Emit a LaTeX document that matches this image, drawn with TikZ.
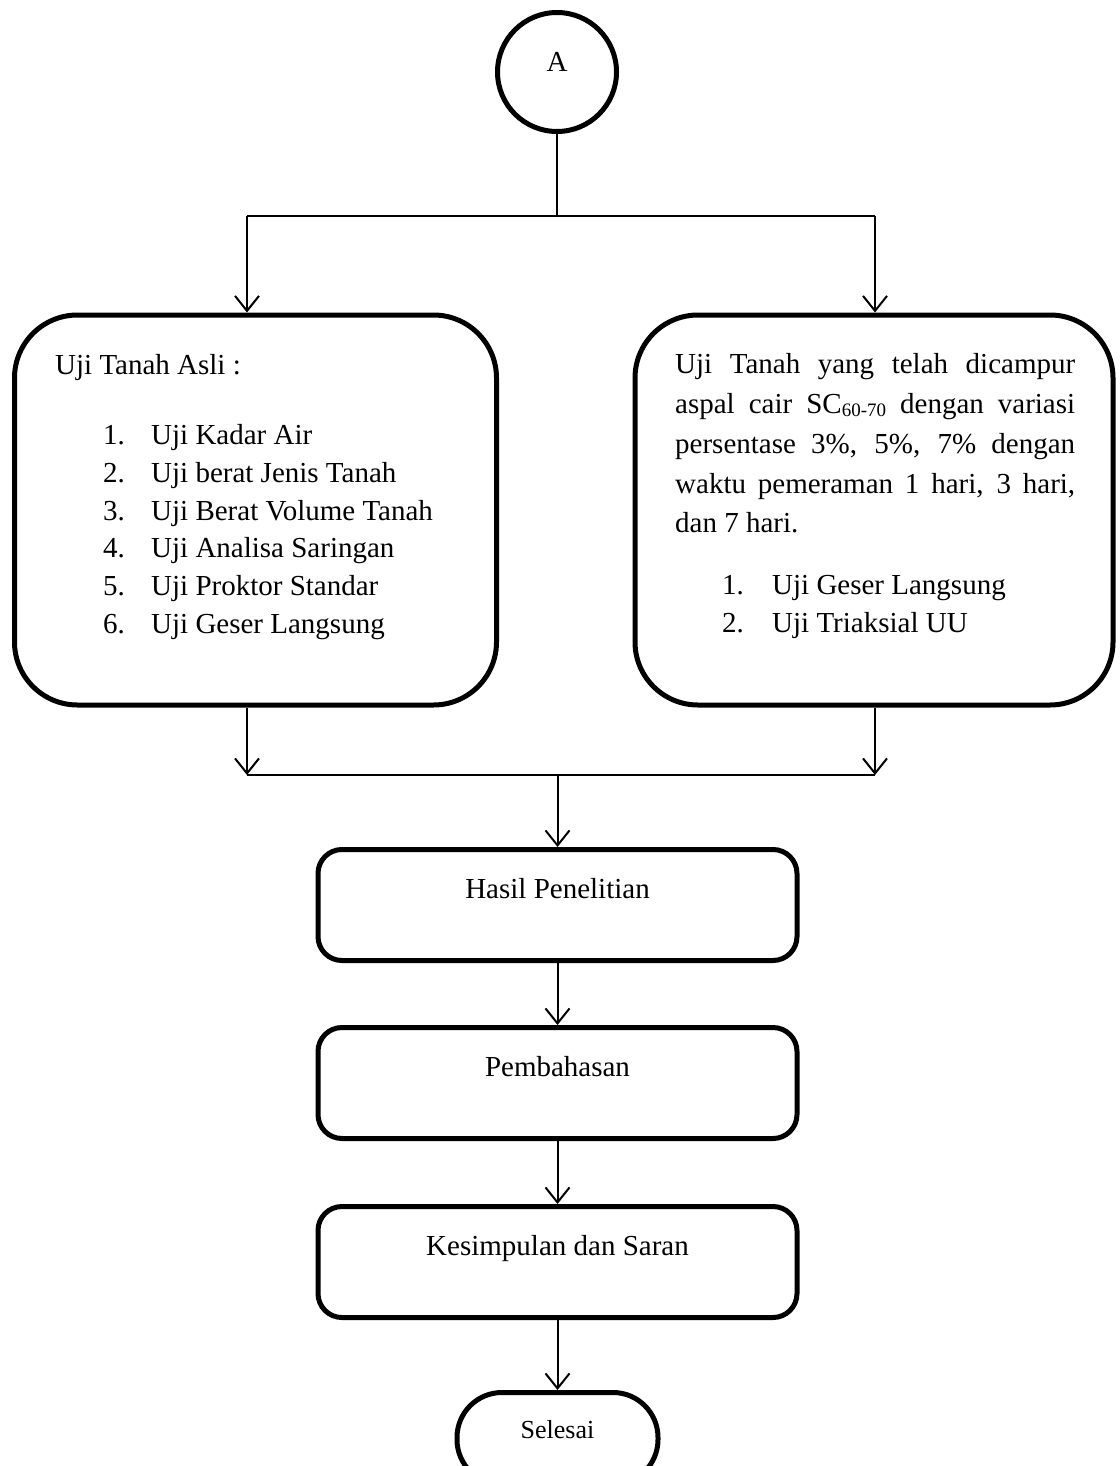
\documentclass[tikz,border=0pt]{standalone}
\usepackage{fontspec}
\setmainfont{Liberation Serif}
\usetikzlibrary{arrows.meta}
\begin{document}
\begin{tikzpicture}[x=1pt,y=-1pt,
  bigbox/.style={draw,line width=5pt,rounded corners=63pt,inner sep=0pt,minimum height=390pt},
  midbox/.style={draw,line width=5pt,rounded corners=24pt,inner sep=0pt,minimum width=479pt,minimum height=111pt},
  endbox/.style={draw,line width=5pt,rounded corners=45pt,inner sep=0pt,minimum width=201pt,minimum height=92pt},
  txt/.style={inner sep=0pt,anchor=base west,font=\fontsize{29}{35}\selectfont},
  ctxt/.style={inner sep=0pt,anchor=base,font=\fontsize{29}{35}\selectfont},
  ln/.style={line width=2pt},
  arr/.style={line width=2pt,-{Straight Barb[length=15pt,width=24pt,line width=2pt]}}
]
\clip (0,0) rectangle (1119,1466);
\fill[white] (0,0) rectangle (1119,1466);

% start connector
\node[draw,circle,line width=5pt,minimum size=119pt,inner sep=0pt] (A) at (557,72) {};
\node[ctxt] (Atxt) at (557,72) {A};

% boxes
\node[bigbox,minimum width=482pt] (L) at (255.5,510) {};
\node[bigbox,minimum width=478pt] (R) at (874,510) {};
\node[midbox] (H) at (557.5,905) {};
\node[midbox] (P) at (557.5,1083) {};
\node[midbox] (K) at (557.5,1262) {};
\node[endbox] (S) at (557.5,1438.5) {};

% left box text
\node[txt] (Lt) at (55,374) {Uji Tanah Asli :};
\node[txt] (Ln1) at (103,444) {1.};
\node[txt] (Li1) at (151,444) {Uji Kadar Air};
\node[txt] (Ln2) at (103,482) {2.};
\node[txt] (Li2) at (151,482) {Uji berat Jenis Tanah};
\node[txt] (Ln3) at (103,520) {3.};
\node[txt] (Li3) at (151,520) {Uji Berat Volume Tanah};
\node[txt] (Ln4) at (103,557) {4.};
\node[txt] (Li4) at (151,557) {Uji Analisa Saringan};
\node[txt] (Ln5) at (103,595) {5.};
\node[txt] (Li5) at (151,595) {Uji Proktor Standar};
\node[txt] (Ln6) at (103,633) {6.};
\node[txt] (Li6) at (151,633) {Uji Geser Langsung};

% right box text
\node[txt] (Rt1) at (675,373) {\makebox[400pt][s]{Uji Tanah yang telah dicampur}};
\node[txt] (Rt2) at (675,413) {\makebox[400pt][s]{aspal cair SC{\fontsize{19}{19}\selectfont\raisebox{-3pt}{60-70}} dengan variasi}};
\node[txt] (Rt3) at (675,453) {\makebox[400pt][s]{persentase 3\%, 5\%, 7\% dengan}};
\node[txt] (Rt4) at (675,493) {\makebox[400pt][s]{waktu pemeraman 1 hari, 3 hari,}};
\node[txt] (Rt5) at (675,532) {dan 7 hari.};
\node[txt] (Rn1) at (722,594) {1.};
\node[txt] (Ri1) at (772,594) {Uji Geser Langsung};
\node[txt] (Rn2) at (722,632) {2.};
\node[txt] (Ri2) at (772,632) {Uji Triaksial UU};

% centre box text
\node[ctxt] (Ht) at (557.5,898) {Hasil Penelitian};
\node[ctxt] (Pt) at (557.5,1076) {Pembahasan};
\node[ctxt] (Kt) at (557.5,1255) {Kesimpulan dan Saran};
\node[ctxt,font=\fontsize{26}{30}\selectfont] (St) at (557.5,1438) {Selesai};

% junction points
\coordinate (jT) at (557,216);
\coordinate (jL) at (247,216);
\coordinate (jR) at (875,216);
\coordinate (jBL) at (247,775);
\coordinate (jBR) at (875,775);
\coordinate (jBM) at (557.5,775);

% connectors
\draw[ln] (A.south) -- (jT);
\draw[ln] (jL) -- (jR);
\draw[arr] (jL) -- (jL |- L.north);
\draw[arr] (jR) -- (jR |- R.north);
\draw[arr] (L.south -| jL) -- (jBL);
\draw[arr] (R.south -| jR) -- (jBR);
\draw[ln] (jBL) -- (jBR);
\draw[arr] (jBM) -- (H.north);
\draw[arr] (H.south) -- (P.north);
\draw[arr] (P.south) -- (K.north);
\draw[arr] (K.south) -- (S.north);
\end{tikzpicture}
\end{document}
